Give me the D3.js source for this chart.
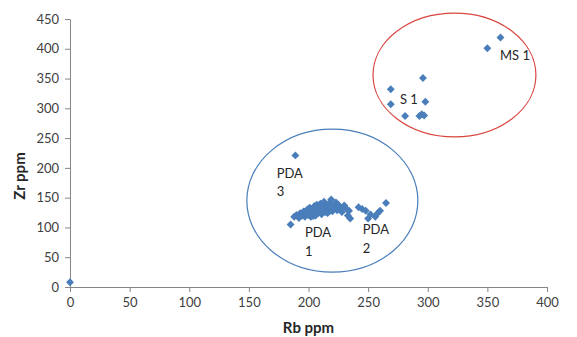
<!DOCTYPE html>
<html>
<head>
<meta charset="utf-8">
<script src="https://cdn.jsdelivr.net/npm/d3@7"></script>
<style>
  body { margin: 0; background: #fff; }
  svg text { font-family: Lato, "Open Sans", sans-serif; }
</style>
</head>
<body>
<svg id="chart" width="577" height="337"></svg>
<script>
// Rb (ppm), Zr (ppm) per sample
var pda1 = [
    [185,105],[188,118],[190,121],[192,116],[193,124],[195,120],[196,127],[197,118],
    [198,123],[199,130],[200,121],[200,126],[201,133],[202,118],[202,128],[203,123],
    [204,131],[205,125],[205,136],[206,120],[207,128],[207,138],[208,124],[209,132],
    [210,127],[210,140],[211,122],[211,135],[212,130],[213,143],[214,126],[214,137],
    [215,132],[216,129],[217,140],[218,134],[219,147],[220,127],[221,137],[222,132],
    [223,142],[224,129],[225,138],[226,134],[228,126],[230,137],[232,131],[233,120],
    [234,128],[235,115],[196,122],[204,119],[209,136],[216,124],[219,131],[227,131]
];
var pda2 = [[242,134],[245,131],[248,128],[250,115],[252,122],[256,118],[258,124],[260,128],[265,141]];
var pda3 = [[189,221]];
var s1 = [[296,351],[269,332],[269,307],[298,311],[281,287],[293,287],[295,290],[297,288]];
var ms1 = [[350,401],[361,419]];
var other = [[0,8]];

var xTicks = [0, 50, 100, 150, 200, 250, 300, 350, 400];
var yTicks = [0, 50, 100, 150, 200, 250, 300, 350, 400, 450];

// group outlines in data units: centre, radii
var groups = [
    {cx: 220, cy: 145, rx: 71.7, ry: 120, color: '#4a7ebb'},
    {cx: 322.4, cy: 356, rx: 68.3, ry: 104, color: '#d9453f'}
];

// label lines, anchored at start, in data units
var labels = [
    {x: 173.3, y: 183, text: 'PDA'}, {x: 173.3, y: 153, text: '3'},
    {x: 197, y: 83.5, text: 'PDA'}, {x: 197, y: 52, text: '1'},
    {x: 245.5, y: 89, text: 'PDA'}, {x: 245.5, y: 56.6, text: '2'},
    {x: 276.7, y: 307, text: 'S 1'},
    {x: 360.6, y: 381, text: 'MS 1'}
];

var points = [].concat(pda1, pda2, pda3, s1, ms1, other);

var svg = d3.select('#chart');
var margin = {left: 70, right: 30, top: 19, bottom: 50};
var width = 577 - margin.left - margin.right;
var height = 337 - margin.top - margin.bottom;

var x = d3.scaleLinear().domain([0, 400]).range([0, width]);
var y = d3.scaleLinear().domain([0, 450]).range([height, 0]);

var g = svg.append('g').attr('transform', 'translate(' + margin.left + ',' + margin.top + ')');

var xAxis = g.append('g')
    .attr('class', 'x-axis')
    .attr('transform', 'translate(0,' + height + ')')
    .call(d3.axisBottom(x).tickValues(xTicks).tickSize(5).tickSizeOuter(0).tickPadding(6));

var yAxis = g.append('g')
    .attr('class', 'y-axis')
    .call(d3.axisLeft(y).tickValues(yTicks).tickSize(5).tickSizeOuter(0).tickPadding(6));

[xAxis, yAxis].forEach(function(ax) {
    ax.select('.domain').attr('stroke', '#868686');
    ax.selectAll('.tick line').attr('stroke', '#868686');
    ax.selectAll('.tick text').attr('fill', '#404040').style('font-size', '13px');
});

g.selectAll('ellipse.group')
    .data(groups)
    .enter().append('ellipse')
    .attr('class', 'group')
    .attr('cx', function(d) { return x(d.cx); })
    .attr('cy', function(d) { return y(d.cy); })
    .attr('rx', function(d) { return x(d.rx) - x(0); })
    .attr('ry', function(d) { return y(0) - y(d.ry); })
    .attr('fill', 'none')
    .attr('stroke', function(d) { return d.color; })
    .attr('stroke-width', 1.2);

var diamond = d3.symbol().type(d3.symbolDiamond2).size(40);

g.selectAll('path.point')
    .data(points)
    .enter().append('path')
    .attr('class', 'point')
    .attr('d', diamond)
    .attr('transform', function(d) { return 'translate(' + x(d[0]) + ',' + y(d[1]) + ')'; })
    .attr('fill', '#4a7ebb');

g.selectAll('text.label')
    .data(labels)
    .enter().append('text')
    .attr('class', 'label')
    .attr('x', function(d) { return x(d.x); })
    .attr('y', function(d) { return y(d.y); })
    .attr('fill', '#262626')
    .style('font-size', '13px')
    .text(function(d) { return d.text; });

svg.append('text')
    .attr('x', margin.left + width / 2)
    .attr('y', 333)
    .attr('text-anchor', 'middle')
    .attr('fill', '#262626')
    .style('font-size', '15px')
    .style('font-weight', 'bold')
    .text('Rb ppm');

svg.append('text')
    .attr('transform', 'translate(25,176) rotate(-90)')
    .attr('text-anchor', 'middle')
    .attr('fill', '#262626')
    .style('font-size', '15px')
    .style('font-weight', 'bold')
    .text('Zr ppm');
</script>
</body>
</html>
